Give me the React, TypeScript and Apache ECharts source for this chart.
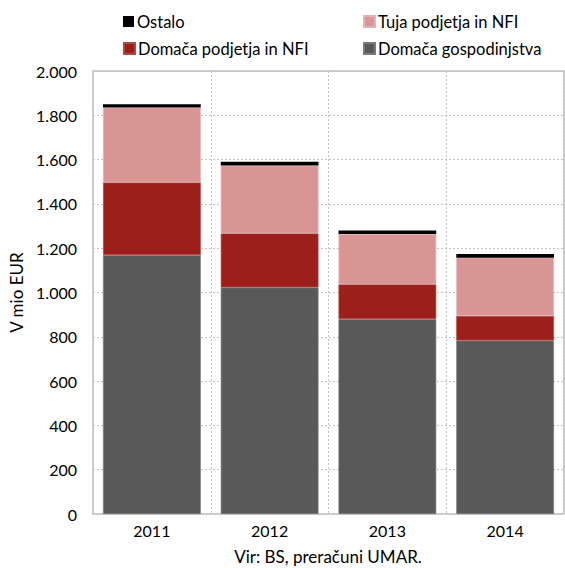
import React, { useEffect, useRef } from "react";
import * as echarts from "echarts";

const categories = ["2011", "2012", "2013", "2014"];
const households = [1169, 1023, 880, 783];
const domesticFirms = [328, 244, 157, 111];
const foreignFirms = [338, 306, 227, 263];
const other = [15, 17, 16, 17];
const yTicks = [0, 200, 400, 600, 800, 1000, 1200, 1400, 1600, 1800, 2000];

const FONT = "Lato";

export default function App() {
  const ref = useRef<HTMLDivElement>(null);
  useEffect(() => {
    const chart = echarts.init(ref.current!, null, { renderer: "svg" });
    const legendBase = {
      orient: "horizontal" as const,
      itemWidth: 11,
      itemHeight: 11,
      itemGap: 4,
      padding: 0,
      icon: "rect",
      textStyle: { fontFamily: FONT, fontSize: 16.5, color: "#000", padding: [0, 0, 0, -2] },
    };
    chart.setOption({
      animation: false,
      textStyle: { fontFamily: FONT },
      grid: {
        left: 93,
        top: 71,
        right: 1,
        bottom: 54,
        show: true,
        borderColor: "#bdbdbd",
        borderWidth: 1.5,
      },
      legend: [
        { ...legendBase, data: ["Ostalo"], left: 123, top: 13 },
        { ...legendBase, data: ["Tuja podjetja in NFI"], left: 363, top: 13 },
        { ...legendBase, data: ["Domača podjetja in NFI"], left: 123, top: 40 },
        { ...legendBase, data: ["Domača gospodinjstva"], left: 363, top: 40 },
      ],
      xAxis: {
        type: "category",
        data: categories,
        axisLine: { show: false },
        axisTick: { show: false },
        axisLabel: { fontFamily: FONT, fontSize: 16, color: "#000", margin: 8 },
        splitLine: {
          show: true,
          lineStyle: { type: [2, 2], color: "#c4c4c4", width: 1 },
        },
      },
      yAxis: {
        type: "value",
        min: 0,
        max: 2000,
        interval: 200,
        name: "V mio EUR",
        nameLocation: "middle",
        nameGap: 66,
        nameTextStyle: { fontFamily: FONT, fontSize: 17, color: "#000" },
        axisLine: { show: false },
        axisTick: { show: false },
        axisLabel: {
          fontFamily: FONT,
          fontSize: 16,
          color: "#000",
          margin: 16,
          formatter: (v: number) =>
            yTicks.includes(v) ? v.toLocaleString("de-DE") : "",
        },
        splitLine: {
          show: true,
          lineStyle: { type: [2, 2], color: "#c4c4c4", width: 1 },
        },
      },
      graphic: [
        {
          type: "text",
          x: 328,
          y: 556,
          style: {
            text: "Vir: BS, preračuni UMAR.",
            fontFamily: FONT,
            fontSize: 17,
            fill: "#000",
            align: "center",
            verticalAlign: "middle",
          },
        },
      ],
      series: [
        {
          name: "Domača gospodinjstva",
          type: "bar",
          stack: "total",
          data: households,
          barCategoryGap: "17%",
          itemStyle: { color: "#595959", borderColor: "#7a7a7a", borderWidth: 0.7 },
        },
        {
          name: "Domača podjetja in NFI",
          type: "bar",
          stack: "total",
          data: domesticFirms,
          itemStyle: { color: "#9c1f1b", borderColor: "#b04a46", borderWidth: 0.7 },
        },
        {
          name: "Tuja podjetja in NFI",
          type: "bar",
          stack: "total",
          data: foreignFirms,
          itemStyle: { color: "#d99594", borderColor: "#e6b3b2", borderWidth: 0.7 },
        },
        {
          name: "Ostalo",
          type: "bar",
          stack: "total",
          data: other,
          itemStyle: { color: "#000000" },
        },
      ],
    });
    return () => chart.dispose();
  }, []);
  return <div ref={ref} style={{ width: 565, height: 568, position: "absolute", left: 0, top: 0 }} />;
}
